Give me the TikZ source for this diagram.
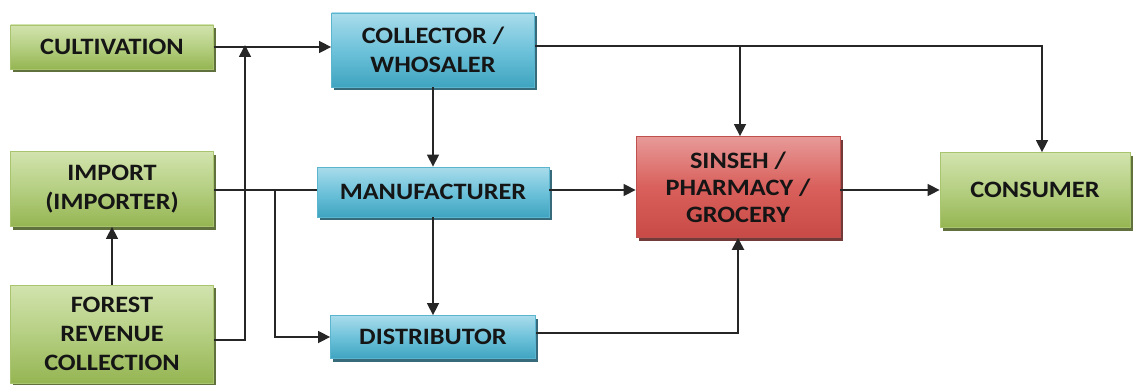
\documentclass[tikz,border=0pt]{standalone}
\usepackage{fontspec}
\setmainfont{Carlito}[FakeStretch=1.12]
\usetikzlibrary{shadows,arrows.meta}
\definecolor{gtop}{HTML}{D2E3AE}
\definecolor{gmid}{HTML}{B5CF82}
\definecolor{gbot}{HTML}{95B552}
\definecolor{gedge}{HTML}{A9C46E}
\definecolor{gshad}{HTML}{4F6228}
\definecolor{btop}{HTML}{A9DCEB}
\definecolor{bmid}{HTML}{6EC2DA}
\definecolor{bbot}{HTML}{3FA4C0}
\definecolor{bedge}{HTML}{5BB5CF}
\definecolor{bshad}{HTML}{215A6B}
\definecolor{rtop}{HTML}{E79A98}
\definecolor{rmid}{HTML}{D9605C}
\definecolor{rbot}{HTML}{C84A46}
\definecolor{redge}{HTML}{C0504D}
\definecolor{rshad}{HTML}{632523}
\definecolor{txt}{HTML}{151515}
\tikzset{
  box/.style={draw, line width=0.8pt, align=center, text=txt, inner sep=0pt,
    font=\fontsize{23.5}{29}\selectfont\bfseries},
  gbox/.style={box, draw=gedge, top color=gtop, bottom color=gbot, middle color=gmid,
    drop shadow={shadow xshift=2.5pt, shadow yshift=-3pt, fill=gshad, opacity=0.9}},
  bbox/.style={box, draw=bedge, top color=btop, bottom color=bbot, middle color=bmid,
    drop shadow={shadow xshift=2.5pt, shadow yshift=-3pt, fill=bshad, opacity=0.9}},
  rbox/.style={box, draw=redge, top color=rtop, bottom color=rbot, middle color=rmid,
    drop shadow={shadow xshift=2.5pt, shadow yshift=-3pt, fill=rshad, opacity=0.9}},
  conn/.style={line width=1.5pt, draw=black!85},
  arr/.style={conn, -{Triangle[length=12pt,width=12pt]}},
}
\begin{document}
\begin{tikzpicture}[x=1pt,y=-1pt]
\useasboundingbox (0,0) rectangle (1139,385);
\node[gbox, minimum width=203pt, minimum height=44pt] (cult) at (112,47) {CULTIVATION};
\node[gbox, minimum width=203pt, minimum height=75pt] (imp) at (112,189) {IMPORT\\(IMPORTER)};
\node[gbox, minimum width=203pt, minimum height=98pt] (for) at (112,334) {FOREST\\REVENUE\\COLLECTION};
\node[bbox, minimum width=203pt, minimum height=74pt] (coll) at (433,50) {COLLECTOR /\\WHOSALER};
\node[bbox, minimum width=232pt, minimum height=50pt] (manu) at (433,192) {MANUFACTURER};
\node[bbox, minimum width=205pt, minimum height=43pt] (dist) at (433,337) {DISTRIBUTOR};
\node[rbox, minimum width=204pt, minimum height=101pt, font=\fontsize{23.5}{27}\selectfont\bfseries] (sins) at (738,187) {SINSEH /\\PHARMACY /\\GROCERY};
\node[gbox, minimum width=190pt, minimum height=75pt] (cons) at (1035,190) {CONSUMER};

\coordinate (j1) at (245,47);
\coordinate (j2) at (275,190);
\coordinate (j3) at (740,46);

\draw[arr] (cult.east) -- (cult.east -| coll.west);
\draw[arr] ([yshift=-6pt]for.east) -| ([yshift=2pt]j1);
\draw[arr] (for.north) -- (imp.south);
\draw[conn] (imp.east |- j2) -- (j2 -| manu.west);
\draw[arr] (j2) |- (dist.west);
\draw[arr] (coll.south) -- (manu.north);
\draw[arr] (manu.south) -- (dist.north);
\draw[arr] (manu.east |- j2) -- (j2 -| sins.west);
\draw[arr] (coll.east |- j3) -| ([xshift=7pt]cons.north);
\draw[arr] (j3) -- (j3 |- sins.north);
\draw[arr] (sins.east |- cons.west) -- (cons.west);
\draw[arr, line width=2.4pt] ([yshift=4pt]dist.east) -| (sins.south);
\end{tikzpicture}
\end{document}
